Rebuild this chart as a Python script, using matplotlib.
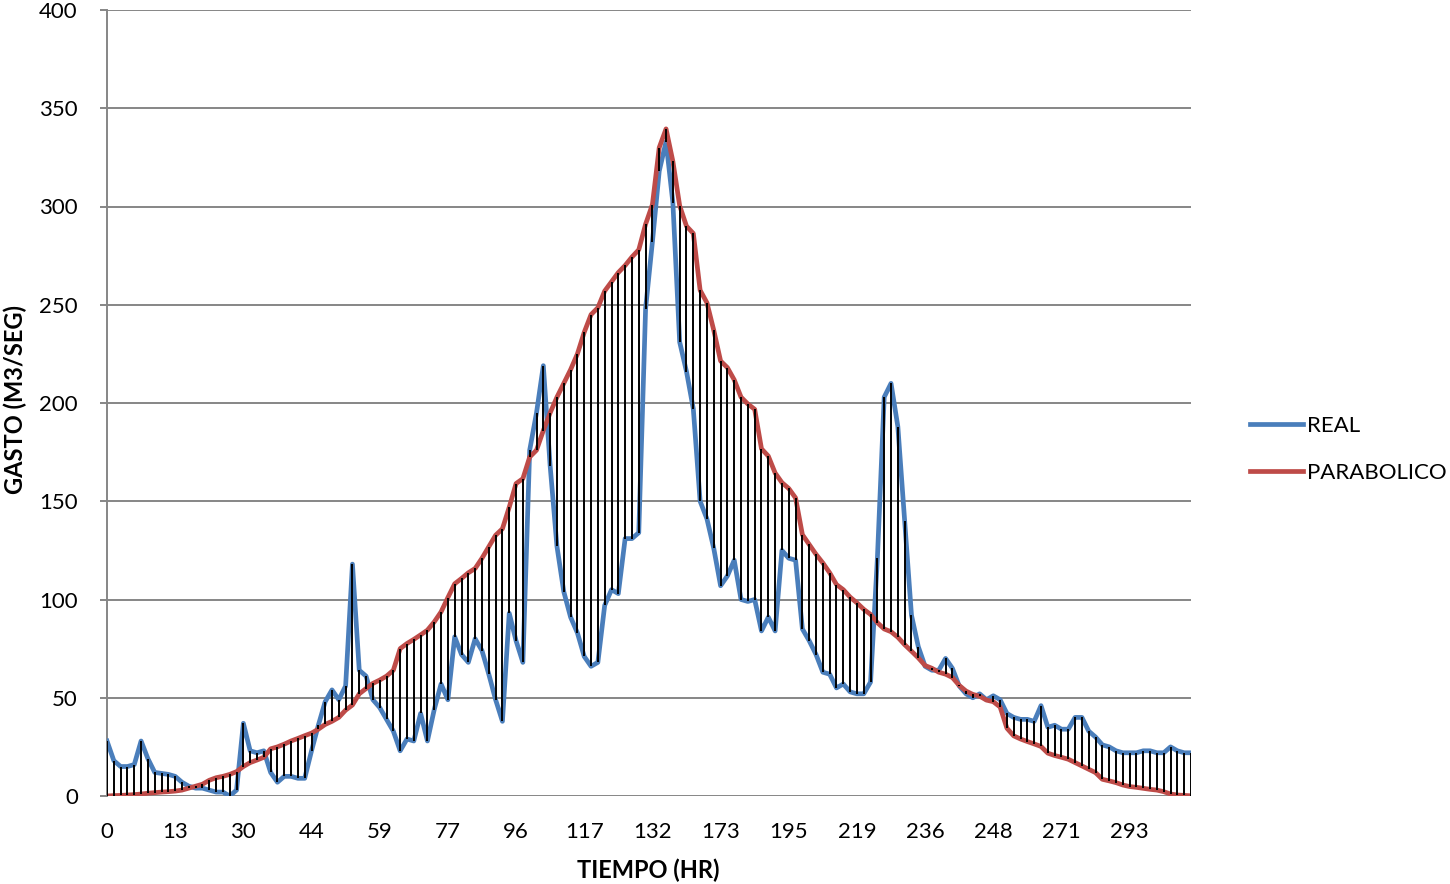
#!/usr/bin/env python3

import numpy as np
import matplotlib
matplotlib.use("Agg")
import matplotlib.pyplot as plt


# ------------------------------------------------------------
# DATA
# ------------------------------------------------------------

tick_labels = ["0", "13", "30", "44", "59", "77", "96", "117", "132",
               "173", "195", "219", "236", "248", "271", "293"]
tick_every = 10

real = [
    28, 18, 15, 15, 16, 28, 19, 12, 11.5, 11,
    10, 7, 5, 4, 4, 3, 2, 2, 0, 3,
    37, 23, 22, 23, 12, 7, 10, 10, 9, 9,
    23, 36, 48, 54, 49, 56, 118, 64, 61, 49,
    45, 39, 33, 23, 29, 28, 42, 28, 44, 57,
    49, 81, 72, 68, 80, 74, 62, 49, 38, 93,
    79, 68, 176, 195, 219, 168, 127, 104, 91, 83,
    71, 66, 68, 97, 105, 103, 131, 131, 134, 248,
    282, 318, 333, 302, 231, 216, 197, 150, 141, 126,
    107, 112, 120, 100, 99, 100, 84, 91, 84, 125,
    121, 120, 85, 79, 72, 63, 62, 55, 57, 53,
    52, 52, 58, 121, 203, 210, 188, 140, 92, 76,
    66, 64, 64, 70, 65, 56, 52, 50, 52, 49,
    51, 49, 42, 40, 39, 39, 38, 46, 35, 36,
    34, 34, 40, 40, 33, 30, 26, 25, 23, 22,
    22, 22, 23, 23, 22, 22, 25, 23, 22, 22,
]

parabolico = [
    0, 0.2, 0.3, 0.5, 0.7, 1, 1.4, 1.7, 2, 2.2,
    2.5, 3, 4, 5, 6, 8, 9.3, 10, 11, 12.4,
    15, 17, 18.3, 19.7, 24, 25, 26.4, 28, 29.3, 30.7,
    32, 34, 36.4, 38, 40, 43.7, 46.3, 52, 54.7, 57.3,
    59, 61, 64, 75, 77.6, 79.7, 82, 84.4, 88.6, 93.7,
    101, 108, 110.7, 113.6, 115.8, 121, 126.8, 132.7, 136, 147,
    159, 161.5, 172.5, 176, 186, 195, 203, 210, 217, 225,
    236, 245, 248.5, 257, 261.7, 266.4, 270, 274.3, 278, 291,
    301, 330, 339.5, 323, 300.4, 290, 286.3, 257.4, 251, 237,
    221.4, 218, 211.8, 203, 199.5, 196.8, 176.7, 173, 164.4, 159.5,
    156.5, 151.7, 133, 128, 123, 118.6, 113.6, 107.6, 105, 101.2,
    98.3, 95, 92.4, 88.2, 85, 83.6, 80.8, 77, 73.7, 70.3,
    66.4, 65, 63, 62, 60.3, 56.3, 53.4, 51.7, 50.8, 48.8,
    48, 45.3, 34.5, 30.6, 29, 27.7, 26.5, 25.2, 21.8, 20.6,
    19.7, 18.7, 17, 15.3, 13.6, 11.9, 8.5, 7.7, 6.8, 5.6,
    4.8, 4.4, 3.9, 3.4, 3, 2.2, 1, 0.5, 0.3, 0.1,
]


# ------------------------------------------------------------
# STYLE
# ------------------------------------------------------------

plt.rcParams["font.family"] = ["Lato", "DejaVu Sans"]
BLUE = "#4A7EBB"
RED = "#BE4B48"
GRID = "#868686"
FS = 16


# ------------------------------------------------------------
# PLOT
# ------------------------------------------------------------

def main():
    x = np.arange(len(real))
    r = np.array(real, dtype=float)
    p = np.array(parabolico, dtype=float)

    fig = plt.figure(figsize=(14.5, 8.84), dpi=100)
    ax = fig.add_axes([107 / 1450, 1 - 796 / 884, (1191 - 107) / 1450, (796 - 10) / 884])

    # high-low lines between the two series
    ax.vlines(x, np.minimum(r, p), np.maximum(r, p), color="black", lw=1.4, zorder=4)

    ax.plot(x, r, color=BLUE, lw=3.4, solid_joinstyle="round", label="REAL", zorder=3)
    ax.plot(x, p, color=RED, lw=3.4, solid_joinstyle="round", label="PARABOLICO", zorder=3)

    ax.set_xlim(0, len(real) - 1)
    ax.set_ylim(0, 400)
    ax.set_yticks(np.arange(0, 401, 50))
    ax.set_xticks(x[::tick_every])
    ax.set_xticklabels(tick_labels)

    ax.grid(axis="y", color=GRID, lw=1.4)
    ax.set_axisbelow(True)
    for s in ["top", "right", "bottom"]:
        ax.spines[s].set_visible(False)
    ax.spines["left"].set_color(GRID)
    ax.spines["left"].set_linewidth(1.4)

    ax.tick_params(axis="y", length=5, color=GRID, width=1.4, pad=16, labelsize=FS)
    ax.tick_params(axis="x", length=0, pad=19, labelsize=FS)

    fig.text(15 / 1450, 1 - 400 / 884, "GASTO (M3/SEG)", rotation=90,
             ha="center", va="center", fontsize=17, fontweight="bold")
    fig.text(648 / 1450, 1 - 870 / 884, "TIEMPO (HR)",
             ha="center", va="center", fontsize=17, fontweight="bold")

    fig.legend(loc="upper left", bbox_to_anchor=(1250 / 1450, 1 - 416 / 884),
               frameon=False, fontsize=FS, borderpad=0, borderaxespad=0,
               handlelength=2.4, handletextpad=0.15, labelspacing=1.2)

    fig.savefig("out.png", dpi=100)
    plt.close(fig)


if __name__ == "__main__":
    main()
